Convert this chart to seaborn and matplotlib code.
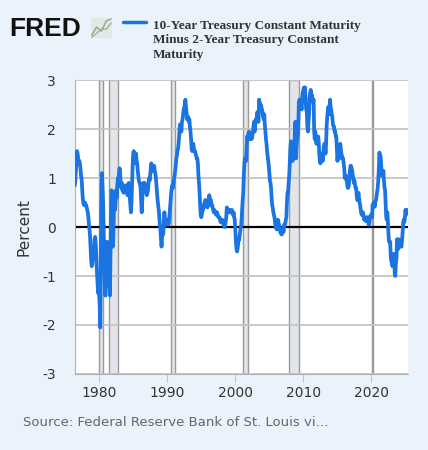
import numpy as np
import pandas as pd
import matplotlib
matplotlib.use('Agg')
import matplotlib.pyplot as plt
import seaborn as sns

# monthly spread (10Y minus 2Y), percent
y1976 = [0.85, 0.95, 1.15, 1.35, 1.55, 1.50, 1.40]  # Jun-Dec
y1977 = [1.30, 1.35, 1.30, 1.20, 1.05, 1.00, 0.80, 0.60, 0.50, 0.45, 0.45, 0.50]
y1978 = [0.45, 0.45, 0.40, 0.35, 0.30, 0.20, 0.05, -0.05, -0.20, -0.45, -0.70, -0.80]
y1979 = [-0.75, -0.60, -0.55, -0.45, -0.25, -0.20, -0.35, -0.60, -0.90, -1.10, -1.35, -1.20]
y1980 = [-1.40, -1.60, -2.05, -0.60, 0.40, 1.10, 0.80, 0.50, -0.10, -0.70, -1.20, -1.40]
y1981 = [-1.10, -0.60, -0.30, -0.80, -1.20, -0.90, -1.10, -1.40, -0.60, 0.30, 0.75, 0.40]
y1982 = [-0.40, -0.20, 0.30, 0.40, 0.35, 0.55, 0.75, 0.60, 0.85, 1.00, 0.90, 1.10]
y1983 = [1.20, 1.10, 0.85, 0.80, 0.90, 0.75, 0.80, 0.70, 0.85, 0.80, 0.75, 0.80]
y1984 = [0.85, 0.75, 0.65, 0.80, 0.90, 0.75, 0.60, 0.45, 0.30, 0.50, 0.90, 1.25]
y1985 = [1.50, 1.55, 1.45, 1.30, 1.40, 1.50, 1.35, 1.30, 1.15, 1.05, 0.95, 0.90]
y1986 = [0.90, 0.80, 0.55, 0.30, 0.55, 0.85, 0.90, 0.75, 0.90, 0.80, 0.75, 0.70]
y1987 = [0.65, 0.70, 0.75, 0.90, 1.00, 0.95, 1.05, 1.20, 1.30, 1.25, 1.15, 1.15]
y1988 = [1.20, 1.25, 1.15, 1.10, 1.00, 0.85, 0.70, 0.55, 0.45, 0.35, 0.20, 0.05]
y1989 = [-0.05, -0.25, -0.40, -0.20, -0.05, -0.15, 0.10, 0.30, 0.15, 0.05, 0.10, 0.05]
y1990 = [0.15, 0.10, 0.05, 0.10, 0.25, 0.40, 0.55, 0.70, 0.80, 0.85, 0.80, 0.90]
y1991 = [1.00, 1.05, 1.15, 1.25, 1.40, 1.45, 1.55, 1.60, 1.70, 1.85, 2.05, 2.10]
y1992 = [2.00, 1.95, 2.15, 2.20, 2.30, 2.40, 2.45, 2.50, 2.60, 2.45, 2.35, 2.20]
y1993 = [2.25, 2.25, 2.15, 2.20, 2.05, 1.95, 1.80, 1.60, 1.55, 1.65, 1.70, 1.60]
y1994 = [1.55, 1.55, 1.50, 1.45, 1.40, 1.40, 1.30, 1.05, 0.90, 0.70, 0.45, 0.25]
y1995 = [0.20, 0.25, 0.35, 0.35, 0.45, 0.40, 0.50, 0.55, 0.55, 0.50, 0.45, 0.40]
y1996 = [0.45, 0.55, 0.65, 0.60, 0.55, 0.55, 0.45, 0.45, 0.40, 0.35, 0.30, 0.35]
y1997 = [0.30, 0.30, 0.25, 0.30, 0.30, 0.25, 0.20, 0.20, 0.20, 0.15, 0.10, 0.10]
y1998 = [0.15, 0.15, 0.10, 0.05, 0.05, 0.00, 0.05, 0.10, 0.20, 0.40, 0.35, 0.30]
y1999 = [0.30, 0.35, 0.35, 0.30, 0.30, 0.30, 0.35, 0.30, 0.25, 0.30, 0.20, 0.15]
y2000 = [-0.05, -0.30, -0.45, -0.50, -0.45, -0.35, -0.25, -0.25, -0.15, -0.05, 0.00, 0.15]
y2001 = [0.35, 0.55, 0.70, 1.05, 1.30, 1.40, 1.35, 1.35, 1.65, 1.85, 1.80, 1.90]
y2002 = [1.95, 1.80, 1.85, 1.80, 1.90, 1.80, 1.85, 1.95, 2.05, 2.15, 1.95, 2.10]
y2003 = [2.20, 2.15, 2.20, 2.35, 2.15, 2.15, 2.60, 2.55, 2.40, 2.50, 2.45, 2.40]
y2004 = [2.35, 2.25, 2.20, 2.30, 2.10, 1.95, 1.80, 1.70, 1.55, 1.45, 1.35, 1.25]
y2005 = [1.10, 0.95, 0.90, 0.80, 0.60, 0.45, 0.40, 0.30, 0.25, 0.20, 0.10, 0.00]
y2006 = [0.00, -0.05, 0.05, 0.15, 0.10, 0.05, 0.00, -0.10, -0.10, -0.15, -0.15, -0.10]
y2007 = [-0.05, -0.10, 0.05, 0.05, 0.05, 0.15, 0.20, 0.50, 0.70, 0.70, 0.90, 1.05]
y2008 = [1.30, 1.60, 1.75, 1.55, 1.45, 1.35, 1.45, 1.50, 1.60, 2.00, 2.15, 1.40]
y2009 = [1.65, 1.80, 1.85, 2.05, 2.55, 2.60, 2.60, 2.50, 2.45, 2.40, 2.65, 2.75]
y2010 = [2.80, 2.85, 2.80, 2.85, 2.55, 2.40, 2.35, 2.05, 1.95, 2.15, 2.30, 2.65]
y2011 = [2.75, 2.80, 2.65, 2.70, 2.60, 2.55, 2.60, 1.95, 1.80, 1.95, 1.75, 1.70]
y2012 = [1.70, 1.70, 1.85, 1.75, 1.50, 1.35, 1.30, 1.45, 1.45, 1.50, 1.35, 1.45]
y2013 = [1.65, 1.70, 1.70, 1.50, 1.70, 2.05, 2.25, 2.35, 2.45, 2.30, 2.45, 2.60]
y2014 = [2.45, 2.40, 2.30, 2.25, 2.10, 2.05, 2.05, 1.95, 1.95, 1.85, 1.85, 1.60]
y2015 = [1.35, 1.45, 1.40, 1.40, 1.65, 1.70, 1.60, 1.50, 1.45, 1.40, 1.40, 1.30]
y2016 = [1.20, 1.00, 1.05, 1.05, 0.95, 0.90, 0.80, 0.80, 0.85, 0.95, 1.15, 1.25]
y2017 = [1.25, 1.20, 1.15, 1.05, 1.00, 0.90, 0.95, 0.85, 0.80, 0.80, 0.65, 0.55]
y2018 = [0.55, 0.70, 0.60, 0.50, 0.45, 0.35, 0.28, 0.25, 0.24, 0.30, 0.25, 0.15]
y2019 = [0.17, 0.17, 0.12, 0.18, 0.20, 0.20, 0.20, 0.05, 0.05, 0.15, 0.20, 0.25]
y2020 = [0.25, 0.20, 0.45, 0.40, 0.50, 0.50, 0.42, 0.53, 0.55, 0.63, 0.70, 0.80]
y2021 = [0.95, 1.20, 1.52, 1.45, 1.45, 1.30, 1.05, 1.05, 1.10, 1.15, 0.95, 0.80]
y2022 = [0.75, 0.45, 0.20, 0.15, 0.30, 0.10, -0.15, -0.30, -0.30, -0.30, -0.60, -0.70]
y2023 = [-0.70, -0.80, -0.65, -0.55, -0.60, -0.95, -1.00, -0.75, -0.65, -0.25, -0.40, -0.45]
y2024 = [-0.25, -0.35, -0.40, -0.35, -0.40, -0.40, -0.25, -0.10, 0.10, 0.15, 0.10, 0.20]
y2025 = [0.35, 0.25, 0.30, 0.35]  # Jan-Apr

recessions = [(1980.0, 1980.5), (1981.5, 1982.83), (1990.5, 1991.17),
              (2001.17, 2001.83), (2007.92, 2009.42), (2020.08, 2020.25)]
year_ticks = [1980, 1990, 2000, 2010, 2020]
y_ticks = [-3, -2, -1, 0, 1, 2, 3]

values = (y1976 + y1977 + y1978 + y1979 + y1980 + y1981 + y1982 + y1983 + y1984
          + y1985 + y1986 + y1987 + y1988 + y1989 + y1990 + y1991 + y1992 + y1993
          + y1994 + y1995 + y1996 + y1997 + y1998 + y1999 + y2000 + y2001 + y2002
          + y2003 + y2004 + y2005 + y2006 + y2007 + y2008 + y2009 + y2010 + y2011
          + y2012 + y2013 + y2014 + y2015 + y2016 + y2017 + y2018 + y2019 + y2020
          + y2021 + y2022 + y2023 + y2024 + y2025)
dates = pd.date_range('1976-06-01', periods=len(values), freq='MS')
df = pd.DataFrame({'t': dates.year + (dates.month - 1) / 12, 'spread': values})

bg = '#eaf2fb'
sns.set_style('white')
fig = plt.figure(figsize=(4.28, 4.5), dpi=100, facecolor=bg)
ax = fig.add_axes([0.176, 0.169, 0.777, 0.653])
ax.set_facecolor('white')

for a, b in recessions:
    ax.axvspan(a, b, facecolor='#e2e5e9', edgecolor='#9a9a9a', linewidth=1.0, zorder=1)

# horizontal grid
for v in y_ticks:
    ax.plot([1976.5, 2025.35], [v, v], color='#c4c4c4', linewidth=1.3, zorder=1.5)
ax.plot([1976.5, 2025.35], [0, 0], color='black', linewidth=1.6, zorder=2)

sns.lineplot(data=df, x='t', y='spread', ax=ax, color='#1a74e2', linewidth=2.7, zorder=3)

ax.set_xlim(1976.5, 2025.35)
ax.set_ylim(-3, 3)
ax.set_xticks(year_ticks)
ax.set_xticklabels([str(y) for y in year_ticks], fontsize=10, color='#333333')
ax.set_yticks(y_ticks)
ax.set_yticklabels([str(v) for v in y_ticks], fontsize=10, color='#333333')
ax.tick_params(axis='x', length=6, color='#c4c4c4', pad=3, direction='out', bottom=True)
ax.tick_params(axis='y', length=0, pad=14)
ax.set_xlabel('')
ax.set_ylabel('Percent', fontsize=11, color='#333333', labelpad=8)
for side in ['top', 'right']:
    ax.spines[side].set_visible(False)
ax.spines['left'].set_color('#b0b0b0')
ax.spines['bottom'].set_color('#b0b0b0')

# header
fig.text(0.021, 0.935, 'FRED', fontsize=19, fontweight='bold', color='#111111',
         family='Liberation Sans', va='center')
icon = fig.add_axes([0.212, 0.915, 0.05, 0.045])
icon.set_facecolor('#e4e8e4')
icon.plot([0, 1, 2, 3, 4], [0.2, 0.6, 0.4, 0.9, 1.0], color='#8aa88a', linewidth=1)
icon.plot([0, 1, 2, 3, 4], [0.1, 0.3, 0.5, 0.5, 0.8], color='#9bb59b', linewidth=1)
icon.set_xticks([])
icon.set_yticks([])
for s in icon.spines.values():
    s.set_visible(False)
fig.add_artist(plt.Line2D([0.287, 0.342], [0.952, 0.952], color='#1a74e2', linewidth=2.5))
fig.text(0.357, 0.955, '10-Year Treasury Constant Maturity\nMinus 2-Year Treasury Constant\nMaturity',
         fontsize=9.5, fontweight='bold', color='#333333', family='Liberation Serif',
         va='top', ha='left', linespacing=1.25, transform=fig.transFigure)

fig.text(0.053, 0.06, 'Source: Federal Reserve Bank of St. Louis vi\u2026', fontsize=9.5,
         color='#666666', va='center')

fig.savefig('out.png', dpi=100, facecolor=bg)
